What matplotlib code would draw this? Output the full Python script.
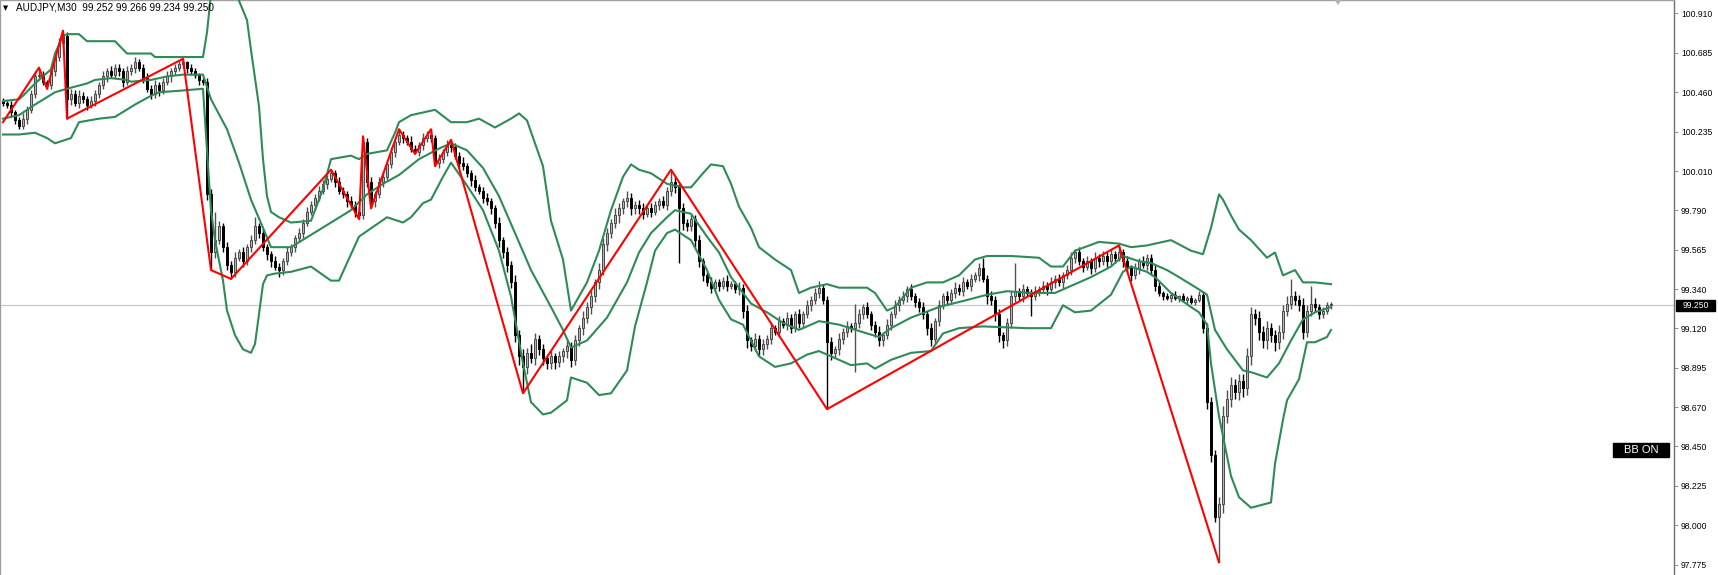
import numpy as np
import matplotlib.pyplot as plt
import matplotlib.transforms as mtransforms
from matplotlib.patches import Polygon, Rectangle

plt.rcParams['font.family'] = ['Liberation Sans', 'DejaVu Sans']

# --- M30 candles (close of each bar, wicks in 0.01 steps) ---
first_open = 100.41
closes = [
    100.40, 100.39, 100.35, 100.30, 100.27, 100.31, 100.36, 100.45, 100.55, 100.56,
    100.52, 100.50, 100.58, 100.66, 100.74, 100.78, 100.42, 100.45, 100.40, 100.44,
    100.42, 100.39, 100.41, 100.45, 100.50, 100.55, 100.58, 100.56, 100.60, 100.58,
    100.52, 100.58, 100.60, 100.63, 100.60, 100.54, 100.48, 100.45, 100.50, 100.47,
    100.52, 100.55, 100.58, 100.60, 100.62, 100.63, 100.60, 100.58, 100.56, 100.53,
    100.52, 99.88, 99.55, 99.62, 99.70, 99.58, 99.48, 99.44, 99.52, 99.55,
    99.50, 99.58, 99.62, 99.70, 99.66, 99.58, 99.54, 99.50, 99.47, 99.45,
    99.50, 99.55, 99.58, 99.63, 99.66, 99.72, 99.78, 99.82, 99.86, 99.90,
    99.94, 99.97, 100.00, 99.95, 99.90, 99.88, 99.84, 99.82, 99.78, 99.76,
    100.18, 99.95, 99.84, 99.88, 99.95, 99.98, 100.05, 100.12, 100.18, 100.22,
    100.20, 100.18, 100.14, 100.12, 100.16, 100.20, 100.22, 100.20, 100.06, 100.08,
    100.12, 100.16, 100.15, 100.10, 100.06, 100.04, 100.00, 99.96, 99.92, 99.90,
    99.86, 99.84, 99.80, 99.72, 99.62, 99.55, 99.48, 99.38, 99.08, 98.96,
    98.90, 98.98, 98.95, 99.06, 99.00, 98.95, 98.92, 98.96, 98.93, 98.96,
    98.99, 99.02, 98.94, 99.05, 99.12, 99.18, 99.24, 99.30, 99.38, 99.45,
    99.60, 99.66, 99.72, 99.76, 99.80, 99.84, 99.86, 99.80, 99.82, 99.80,
    99.77, 99.80, 99.78, 99.82, 99.84, 99.82, 99.90, 99.95, 99.92, 99.80,
    99.72, 99.70, 99.74, 99.62, 99.50, 99.42, 99.38, 99.35, 99.38, 99.36,
    99.39, 99.36, 99.37, 99.34, 99.35, 99.22, 99.05, 99.02, 99.06, 99.00,
    99.03, 99.06, 99.12, 99.10, 99.16, 99.14, 99.18, 99.12, 99.20, 99.15,
    99.20, 99.25, 99.28, 99.32, 99.35, 99.28, 99.04, 98.98, 99.00, 99.06,
    99.10, 99.13, 99.12, 99.15, 99.20, 99.24, 99.20, 99.14, 99.10, 99.05,
    99.08, 99.14, 99.20, 99.25, 99.28, 99.30, 99.34, 99.30, 99.27, 99.24,
    99.20, 99.12, 99.06, 99.16, 99.25, 99.30, 99.28, 99.32, 99.35, 99.33,
    99.38, 99.36, 99.40, 99.42, 99.46, 99.40, 99.30, 99.28, 99.20, 99.08,
    99.05, 99.15, 99.30, 99.33, 99.30, 99.34, 99.32, 99.30, 99.33, 99.34,
    99.36, 99.34, 99.38, 99.40, 99.38, 99.42, 99.45, 99.52, 99.55, 99.50,
    99.47, 99.50, 99.46, 99.52, 99.50, 99.53, 99.50, 99.54, 99.52, 99.55,
    99.50, 99.46, 99.42, 99.46, 99.50, 99.48, 99.52, 99.45, 99.36, 99.32,
    99.30, 99.29, 99.31, 99.29, 99.30, 99.28, 99.29, 99.27, 99.28, 99.31,
    99.12, 98.70, 98.40, 98.05, 98.12, 98.62, 98.72, 98.80, 98.76, 98.82,
    98.78, 98.96, 99.20, 99.18, 99.10, 99.05, 99.12, 99.08, 99.04, 99.10,
    99.22, 99.26, 99.30, 99.28, 99.25, 99.10, 99.22, 99.26, 99.24, 99.20,
    99.22, 99.25, 99.25,
]
upper_wick = [
    2, 1, 2, 1, 2, 3, 2, 2, 3, 4,  2, 1, 3, 2, 3, 3, 2, 3, 2, 3,
    2, 2, 3, 2, 2, 3, 2, 3, 2, 2,  2, 3, 2, 3, 2, 2, 3, 2, 3, 2,
    2, 3, 2, 2, 2, 2, 1, 2, 2, 1,  1, 2, 3, 16, 3, 2, 3, 2, 3, 2,
    3, 2, 3, 5, 2, 3, 2, 2, 3, 2,  2, 3, 2, 2, 3, 2, 3, 2, 2, 3,
    2, 2, 2, 2, 3, 2, 2, 3, 2, 2,  3, 2, 3, 2, 3, 2, 2, 3, 2, 3,
    2, 2, 3, 2, 2, 3, 2, 3, 2, 3,  2, 3, 3, 2, 2, 3, 2, 2, 3, 2,
    2, 3, 2, 2, 3, 2, 3, 2, 4, 3,  4, 3, 5, 3, 2, 3, 2, 3, 2, 3,
    2, 3, 2, 3, 2, 4, 3, 3, 2, 4,  3, 3, 2, 4, 3, 2, 4, 3, 2, 3,
    3, 2, 3, 2, 2, 3, 2, 7, 3, 2,  3, 2, 3, 2, 3, 2, 2, 3, 2, 2,
    2, 3, 2, 2, 3, 2, 3, 2, 3, 2,  3, 2, 3, 2, 3, 2, 3, 2, 2, 3,
    2, 3, 2, 3, 4, 2, 2, 3, 2, 3,  2, 3, 2, 11, 3, 2, 3, 2, 2, 3,
    2, 3, 2, 3, 2, 3, 2, 3, 2, 2,  3, 2, 3, 2, 3, 2, 3, 2, 3, 2,
    3, 2, 3, 2, 3, 6, 2, 3, 2, 3,  2, 3, 3, 16, 2, 3, 2, 2, 3, 2,
    3, 2, 3, 2, 3, 2, 3, 3, 2, 3,  2, 3, 2, 3, 2, 3, 2, 3, 2, 4,
    2, 3, 2, 3, 2, 3, 2, 2, 3, 2,  1, 2, 1, 2, 1, 2, 1, 2, 1, 2,
    2, 3, 3, 3, 4, 6, 5, 4, 3, 4,  4, 5, 4, 3, 4, 3, 4, 3, 3, 4,
    3, 4, 10, 3, 3, 4, 3, 10, 3, 2,  2, 2, 2,
]
lower_wick = [
    2, 2, 3, 2, 2, 2, 3, 2, 2, 2,  2, 2, 2, 3, 2, 3, 11, 3, 2, 3,
    2, 3, 2, 3, 2, 2, 3, 2, 2, 3,  3, 2, 2, 3, 2, 3, 2, 3, 2, 3,
    2, 2, 3, 2, 2, 2, 3, 2, 2, 3,  2, 3, 10, 3, 2, 3, 3, 4, 3, 2,
    3, 2, 3, 2, 3, 2, 3, 3, 2, 4,  3, 2, 2, 3, 2, 3, 2, 2, 3, 2,
    2, 3, 2, 3, 2, 2, 3, 2, 3, 2,  2, 3, 4, 3, 2, 3, 2, 2, 3, 2,
    3, 2, 2, 1, 2, 3, 2, 2, 2, 3,  2, 2, 3, 2, 3, 2, 2, 3, 2, 2,
    3, 2, 3, 3, 4, 3, 4, 3, 4, 5,  15, 4, 3, 4, 3, 4, 3, 3, 4, 3,
    3, 4, 4, 3, 3, 4, 3, 4, 3, 4,  3, 4, 3, 3, 4, 3, 3, 4, 3, 3,
    3, 2, 3, 2, 3, 2, 3, 3, 3, 31,  4, 3, 3, 4, 3, 3, 2, 3, 2, 3,
    2, 3, 2, 2, 3, 4, 4, 3, 3, 3,  3, 3, 3, 2, 3, 2, 3, 3, 2, 3,
    3, 2, 3, 2, 3, 2, 38, 4, 3, 3,  3, 3, 2, 25, 3, 3, 2, 3, 3, 3,
    3, 2, 3, 2, 3, 2, 3, 2, 3, 3,  3, 4, 4, 3, 3, 2, 3, 2, 3, 2,
    3, 2, 3, 2, 3, 2, 4, 3, 4, 4,  4, 3, 3, 3, 2, 3, 2, 11, 2, 3,
    2, 3, 2, 3, 2, 3, 2, 3, 3, 2,  3, 2, 3, 2, 3, 2, 3, 2, 3, 2,
    3, 2, 3, 2, 3, 2, 3, 3, 3, 2,  2, 1, 2, 1, 2, 1, 2, 1, 2, 1,
    3, 4, 4, 3, 26, 5, 4, 5, 4, 5,  5, 4, 5, 4, 5, 4, 5, 4, 5, 4,
    4, 3, 3, 3, 3, 4, 3, 3, 3, 3,  2, 2, 2,
]

# --- ZigZag pivots ---
zz_idx = [0, 9, 11, 15, 16, 45, 52, 57, 82, 89, 90, 92, 99, 103, 107, 108, 112,
          130, 167, 206, 279, 304]
zz_price = [100.29, 100.60, 100.48, 100.81, 100.31, 100.65, 99.45, 99.40, 100.02,
            99.74, 100.21, 99.80, 100.25, 100.11, 100.25, 100.04, 100.19, 98.75,
            100.02, 98.66, 99.59, 97.79]

# --- Bollinger bands ---
bb_up_idx = [0, 4, 5, 8, 12, 13, 15, 16, 19, 21, 28, 31, 37, 38, 50, 51, 52, 54, 56,
             58, 59, 61, 62, 64, 65, 66, 67, 69, 72, 77, 80, 82, 87, 89, 91, 96, 98,
             99, 102, 104, 108, 112, 116, 119, 123, 127, 129, 131, 133, 135, 137,
             140, 142, 146, 149, 152, 155, 157, 159, 162, 166, 170, 172, 175, 177,
             180, 182, 184, 187, 189, 193, 197, 199, 202, 206, 209, 216, 218, 221,
             223, 227, 231, 235, 239, 243, 246, 252, 259, 262, 265, 268, 274, 279,
             282, 286, 288, 292, 297, 300, 302, 304, 305, 307, 309, 312, 316, 318,
             320, 323, 325, 328, 332]
bb_up = [100.41, 100.42, 100.44, 100.51, 100.59, 100.68, 100.78, 100.79, 100.79,
         100.75, 100.75, 100.68, 100.68, 100.66, 100.66, 100.80, 101.02, 101.22,
         101.30, 101.18, 100.98, 100.87, 100.70, 100.38, 100.08, 99.87, 99.78, 99.75,
         99.72, 99.73, 99.91, 100.08, 100.10, 100.08, 100.11, 100.13, 100.23, 100.29,
         100.33, 100.34, 100.36, 100.29, 100.29, 100.31, 100.26, 100.31, 100.34,
         100.30, 100.17, 100.04, 99.73, 99.51, 99.22, 99.38, 99.56, 99.79, 99.98,
         100.05, 100.02, 100.00, 99.94, 99.92, 99.92, 100.00, 100.05, 100.04, 99.94,
         99.81, 99.69, 99.58, 99.51, 99.45, 99.32, 99.35, 99.37, 99.35, 99.35, 99.32,
         99.22, 99.24, 99.35, 99.38, 99.38, 99.42, 99.51, 99.53, 99.53, 99.52, 99.47,
         99.47, 99.56, 99.61, 99.60, 99.58, 99.59, 99.60, 99.62, 99.56, 99.54, 99.69,
         99.88, 99.85, 99.76, 99.68, 99.62, 99.52, 99.55, 99.42, 99.45, 99.38, 99.38,
         99.37]
bb_mid_idx = [0, 4, 8, 13, 16, 21, 23, 27, 31, 32, 37, 41, 45, 50, 52, 56, 59, 62, 65,
              67, 72, 82, 87, 91, 95, 99, 104, 109, 112, 116, 120, 124, 128, 132,
              137, 140, 142, 146, 151, 156, 159, 162, 166, 168, 172, 176, 179, 182,
              187, 191, 195, 199, 204, 209, 216, 219, 222, 227, 234, 241, 246, 251,
              257, 263, 266, 272, 277, 280, 284, 287, 291, 294, 299, 301, 303, 306,
              310, 312, 316, 319, 322, 325, 328, 332]
bb_mid = [100.31, 100.33, 100.39, 100.46, 100.48, 100.51, 100.53, 100.54, 100.53,
          100.52, 100.53, 100.55, 100.56, 100.56, 100.42, 100.25, 100.06, 99.85, 99.69,
          99.58, 99.58, 99.72, 99.79, 99.88, 99.94, 99.99, 100.08, 100.14, 100.17,
          100.13, 100.03, 99.87, 99.66, 99.45, 99.24, 99.11, 99.01, 99.05, 99.18, 99.38,
          99.55, 99.66, 99.75, 99.79, 99.77, 99.64, 99.55, 99.41, 99.26, 99.21, 99.15,
          99.11, 99.16, 99.14, 99.09, 99.07, 99.12, 99.18, 99.24, 99.28, 99.31, 99.33,
          99.32, 99.32, 99.35, 99.41, 99.47, 99.53, 99.50, 99.49, 99.45, 99.41, 99.34,
          99.31, 99.11, 99.00, 98.88, 98.87, 98.84, 98.92, 99.05, 99.17, 99.21, 99.24]
bb_low_idx = [0, 4, 8, 11, 13, 17, 19, 24, 28, 33, 37, 39, 45, 50, 51, 52, 53, 55, 56,
              58, 60, 62, 63, 64, 65, 66, 68, 72, 77, 82, 84, 89, 96, 100, 102, 105,
              107, 110, 112, 116, 120, 124, 127, 130, 132, 135, 137, 141, 142, 146,
              149, 152, 156, 158, 161, 163, 166, 168, 172, 176, 179, 182, 185, 189,
              193, 197, 201, 204, 207, 212, 216, 218, 222, 227, 232, 235, 239, 245,
              256, 262, 265, 268, 272, 277, 280, 282, 286, 288, 292, 297, 299, 301,
              302, 304, 307, 309, 312, 317, 318, 320, 321, 324, 326, 328, 331, 332]
bb_low = [100.22, 100.22, 100.23, 100.20, 100.17, 100.20, 100.29, 100.31, 100.32,
          100.39, 100.44, 100.46, 100.47, 100.48, 100.13, 99.79, 99.62, 99.39, 99.22,
          99.08, 99.00, 98.98, 99.03, 99.20, 99.37, 99.42, 99.43, 99.44, 99.47, 99.39,
          99.39, 99.64, 99.75, 99.72, 99.75, 99.83, 99.85, 99.98, 100.06, 99.93, 99.79,
          99.56, 99.30, 98.92, 98.70, 98.63, 98.64, 98.71, 98.84, 98.81, 98.74, 98.75,
          98.88, 99.13, 99.38, 99.56, 99.66, 99.68, 99.62, 99.45, 99.28, 99.17, 99.14,
          98.96, 98.90, 98.92, 98.97, 98.99, 98.96, 98.91, 98.92, 98.89, 98.94, 98.98,
          98.99, 99.09, 99.12, 99.13, 99.12, 99.12, 99.25, 99.21, 99.22, 99.31, 99.44,
          99.47, 99.44, 99.41, 99.32, 99.24, 99.21, 99.14, 98.92, 98.62, 98.28, 98.16,
          98.10, 98.13, 98.35, 98.60, 98.71, 98.83, 99.04, 99.04, 99.07, 99.11]

# --- price scale ---
tick_prices = [100.910, 100.685, 100.460, 100.235, 100.010, 99.790, 99.565, 99.340,
               99.120, 98.895, 98.670, 98.450, 98.225, 98.000, 97.775]
tick_labels = ['100.910', '100.685', '100.460', '100.235', '100.010', '99.790',
               '99.565', '99.340', '99.120', '98.895', '98.670', '98.450', '98.225',
               '98.000', '97.775']
last_price = 99.250
header = 'AUDJPY,M30  99.252 99.266 99.234 99.250'

closes = np.array(closes)
opens = np.concatenate([[first_open], closes[:-1]])
highs = np.maximum(opens, closes) + np.array(upper_wick) / 100.0
lows = np.minimum(opens, closes) - np.array(lower_wick) / 100.0
x = np.arange(len(closes))

W, H = 1718, 575
axis_px = 1674
fig = plt.figure(figsize=(W / 100, H / 100), dpi=100)
fig.patch.set_facecolor('white')
ax = fig.add_axes([0, 0, axis_px / W, 1])
ax.set_facecolor('white')
ax.set_xlim(-0.75, 417.75)
ax.set_ylim(97.718, 100.984)

ax.axhline(last_price, color='#c8c8c8', lw=0.9, zorder=1)

bull = closes >= opens
body_lo = np.minimum(opens, closes)
body_h = np.maximum(np.abs(closes - opens), 0.005)
ax.vlines(x[bull], lows[bull], highs[bull], colors='#505050', lw=1.0, zorder=2)
ax.vlines(x[~bull], lows[~bull], highs[~bull], colors='#000000', lw=1.0, zorder=2)
ax.bar(x[bull], body_h[bull], bottom=body_lo[bull], width=0.72, color='#b4b4b4',
       edgecolor='#484848', linewidth=0.7, zorder=2.5)
ax.bar(x[~bull], body_h[~bull], bottom=body_lo[~bull], width=0.72, color='#000000',
       edgecolor='#000000', linewidth=0.7, zorder=2.5)

band_col = '#2e8b57'
ax.plot(bb_up_idx, bb_up, color=band_col, lw=1.5, zorder=3)
ax.plot(bb_mid_idx, bb_mid, color=band_col, lw=1.5, zorder=3)
ax.plot(bb_low_idx, bb_low, color=band_col, lw=1.5, zorder=3)

ax.plot(zz_idx, zz_price, color='#ff0000', lw=1.5, zorder=4)

# spines / price axis
for side in ['left', 'top']:
    ax.spines[side].set_color('#a0a0a0')
    ax.spines[side].set_linewidth(1.0)
ax.spines['right'].set_color('#707070')
ax.spines['right'].set_linewidth(1.0)
ax.spines['bottom'].set_visible(False)
ax.set_xticks([])
ax.yaxis.tick_right()
ax.set_yticks(tick_prices)
ax.set_yticklabels(tick_labels)
ax.tick_params(axis='y', direction='out', length=3, width=0.6, color='#808080',
               labelsize=6.2, pad=2, labelcolor='#000000')

# last price marker on the scale
blend = mtransforms.blended_transform_factory(ax.transAxes, ax.transData)
ax.add_patch(Rectangle((1676 / axis_px, last_price - 0.030), 39 / axis_px, 0.060,
                       transform=blend, facecolor='black', edgecolor='black',
                       clip_on=False, zorder=10))
ax.text(1695.5 / axis_px, last_price, '%.3f' % last_price, transform=blend,
        ha='center', va='center', color='white', fontsize=6.2, zorder=11, clip_on=False)

# chart shift marker
blend_x = mtransforms.blended_transform_factory(ax.transData, ax.transAxes)
ax.add_patch(Polygon([(332.9, 1.0), (334.6, 1.0), (333.75, 1 - 5 / H)], closed=True,
                     transform=blend_x, facecolor='#b4b4b4', edgecolor='none',
                     clip_on=False, zorder=10))

# header
ax.text(3 / axis_px, 1 - 8 / H, '\u25bc', transform=ax.transAxes, ha='left',
        va='center', fontsize=4.8, family='DejaVu Sans', color='#000000')
ax.text(16 / axis_px, 1 - 8 / H, header, transform=ax.transAxes, ha='left',
        va='center', fontsize=7.2, color='#000000')

# BB ON label
ax.add_patch(Rectangle((1613 / axis_px, 1 - 457 / H), 56 / axis_px, 14 / H,
                       transform=ax.transAxes, facecolor='black', edgecolor='black',
                       zorder=10))
ax.text(1641 / axis_px, 1 - 450 / H, 'BB ON', transform=ax.transAxes, ha='center',
        va='center', color='white', fontsize=8.0, zorder=11)

fig.savefig('out.png', dpi=100, facecolor='white')
